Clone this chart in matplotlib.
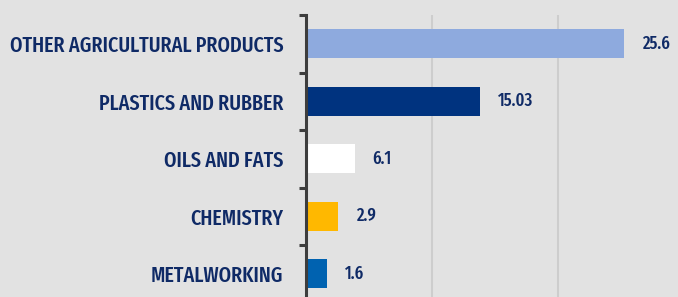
import matplotlib
matplotlib.use('Agg')
import matplotlib.pyplot as plt
from matplotlib.transforms import offset_copy

categories = ["OTHER AGRICULTURAL PRODUCTS", "PLASTICS AND RUBBER", "OILS AND FATS",
              "CHEMISTRY", "METALWORKING"]
values = [25.2, 13.8, 3.9, 2.55, 1.68]
value_labels = ["25.6", "15.03", "6.1", "2.9", "1.6"]
colors = ["#8eaade", "#00337f", "#ffffff", "#ffb800", "#0062b0"]

BG = "#e2e2e2"
NAVY = "#0f2a66"
AX = "#3d3d3d"
FONT = ["Fira Sans Extra Condensed", "DejaVu Sans"]

W, H = 678, 297
fig = plt.figure(figsize=(W / 100, H / 100), dpi=100, facecolor=BG)
x0 = 305.5
top, bottom = 15, 302.5
ax = fig.add_axes([x0 / W, (H - bottom) / H, (W - x0) / W, (bottom - top) / H])
ax.set_facecolor(BG)

n = len(categories)
ypos = list(range(n))
ax.barh(ypos, values, height=0.5, color=colors, zorder=2)
ax.set_xlim(0, 29.5)
ax.set_ylim(n - 0.5, -0.5)

ax.set_xticks([10, 20])
ax.xaxis.grid(True, color="#cdcdcd", linewidth=1.5, zorder=0)
ax.tick_params(axis='x', length=0, labelbottom=False)

for s in ["top", "right", "bottom"]:
    ax.spines[s].set_visible(False)
ax.spines["left"].set_color(AX)
ax.spines["left"].set_linewidth(2.2)
ax.spines["left"].set_zorder(3)

ax.set_yticks([i - 0.5 for i in range(n)])
ax.set_yticklabels([])
ax.tick_params(axis='y', which='major', length=5, width=2.2, color=AX)
ax.set_yticks(ypos, minor=True)
ax.set_yticklabels(categories, minor=True, fontsize=15.7, fontweight=500,
                   color=NAVY, family=FONT)
ax.tick_params(axis='y', which='minor', length=0, pad=16)

for i, (v, lab) in enumerate(zip(values, value_labels)):
    tr = offset_copy(ax.transData, fig=fig, x=18, y=0, units='dots')
    ax.text(v, i, lab, transform=tr, ha='left', va='center', fontsize=13,
            fontweight=500, color=NAVY, family=FONT)

fig.savefig("out.png", dpi=100, facecolor=BG)
